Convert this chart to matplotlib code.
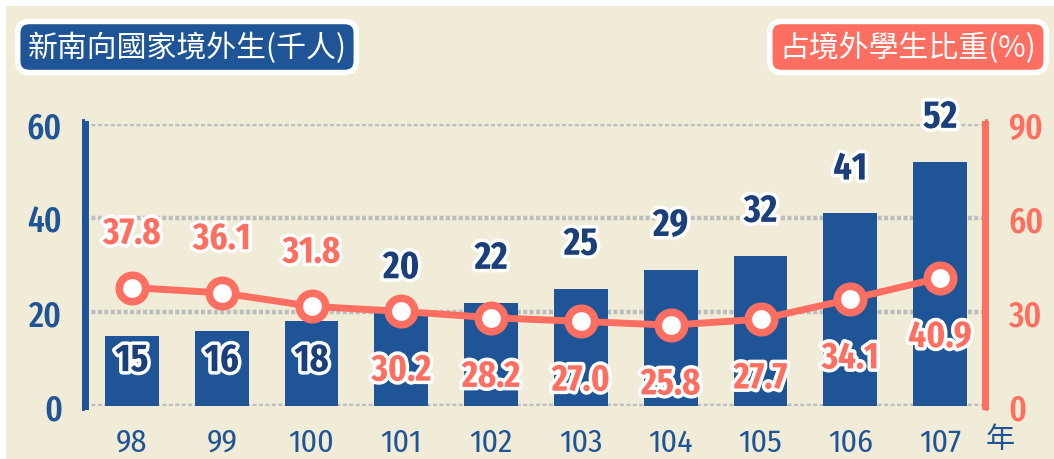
import matplotlib
matplotlib.use("Agg")
import matplotlib.pyplot as plt
import matplotlib.patheffects as pe
from matplotlib.patches import Rectangle
import numpy as np

# 資料
years = ["98", "99", "100", "101", "102", "103", "104", "105", "106", "107"]
students = [15, 16, 18, 20, 22, 25, 29, 32, 41, 52]
share = [37.8, 36.1, 31.8, 30.2, 28.2, 27.0, 25.8, 27.7, 34.1, 40.9]
share_labels = ["37.8", "36.1", "31.8", "30.2", "28.2", "27.0", "25.8", "27.7", "34.1", "40.9"]
left_ticks = [0, 20, 40, 60]
right_ticks = [0, 30, 60, 90]

BLUE = "#1F5597"
DARK_BLUE = "#1B3F7A"
SALMON = "#FF6F61"
BG = "#F1ECD8"
NUM_FONT = ["Fira Sans Extra Condensed", "DejaVu Sans"]
TICK_FONT = ["Fira Sans Condensed", "DejaVu Sans"]
CJK_FONT = ["Noto Sans CJK TC", "DejaVu Sans"]

fig = plt.figure(figsize=(10.54, 4.6), dpi=100, facecolor="white")
fig.patches.append(Rectangle((6 / 1054, 0), 1, (460 - 7) / 460, transform=fig.transFigure,
                             facecolor=BG, edgecolor="none", zorder=-10))

ax = fig.add_axes([85 / 1054, 53 / 460, 900 / 1054, 282 / 460])
ax.set_facecolor("none")
ax2 = ax.twinx()

x = np.arange(len(years))
ax.bar(x, students, width=0.6, color=BLUE, zorder=2)
ax.set_xlim(-0.523, 9.5)
ax.set_ylim(0, 60)
ax2.set_ylim(0, 90)

# 格線
for v in left_ticks:
    ax.axhline(v, color="#BDBDBD", lw=3.2, ls=(0, (0.9, 0.55)), zorder=1)

ax2.plot(x, share, color=SALMON, lw=5, marker="o", markersize=19,
         markerfacecolor="white", markeredgecolor=SALMON, markeredgewidth=5.5, zorder=5)

# 軸線
for s in ["top", "bottom", "right"]:
    ax.spines[s].set_visible(False)
for s in ["top", "bottom", "left"]:
    ax2.spines[s].set_visible(False)
ax.spines["left"].set_color(BLUE)
ax.spines["left"].set_linewidth(5)
ax2.spines["right"].set_color(SALMON)
ax2.spines["right"].set_linewidth(5)

ax.set_yticks(left_ticks)
ax.tick_params(axis="y", colors=BLUE, length=2.5, width=7, pad=14, labelsize=26)
ax2.set_yticks(right_ticks)
ax2.tick_params(axis="y", colors=SALMON, length=2.5, width=7, pad=14, labelsize=26)
for lab in ax.get_yticklabels():
    lab.set_fontfamily(NUM_FONT)
    lab.set_fontweight(500)
    lab.set_color(BLUE)
for lab in ax2.get_yticklabels():
    lab.set_fontfamily(NUM_FONT)
    lab.set_fontweight(500)
    lab.set_color(SALMON)

ax.set_xticks(x)
ax.set_xticklabels(years, fontfamily=TICK_FONT, fontsize=23, color=BLUE)
ax.tick_params(axis="x", length=0, pad=15)

glow = [pe.withStroke(linewidth=5, foreground="white")]

# 人數標籤
for i, v in enumerate(students):
    if i < 3:
        ax.annotate(str(v), (x[i], 9.6), ha="center", va="center", fontsize=28,
                    fontweight="bold", color=DARK_BLUE, fontfamily=NUM_FONT,
                    path_effects=glow, zorder=6)
    else:
        ax.annotate(str(v), (x[i], v), xytext=(0, 44), textcoords="offset pixels",
                    ha="center", va="center", fontsize=28, fontweight="bold",
                    color=DARK_BLUE, fontfamily=NUM_FONT, path_effects=glow, zorder=6)

# 比重標籤
for i, v in enumerate(share):
    dy = 54 if i < 3 else -59
    ax2.annotate(share_labels[i], (x[i], v), xytext=(0, dy), textcoords="offset pixels",
                 ha="center", va="center", fontsize=27, fontweight="bold",
                 color=SALMON, fontfamily=NUM_FONT, path_effects=glow, zorder=7)

# 標題框
fig.text(187 / 1054, 1 - 48 / 460, "新南向國家境外生(千人)", ha="center", va="center",
         fontsize=21.5, color="white", fontfamily=CJK_FONT,
         bbox=dict(boxstyle="round,pad=0.33,rounding_size=0.4", facecolor=BLUE,
                   edgecolor="white", linewidth=4))
fig.text(908 / 1054, 1 - 48 / 460, "占境外學生比重(%)", ha="center", va="center",
         fontsize=21.5, color="white", fontfamily=CJK_FONT,
         bbox=dict(boxstyle="round,pad=0.33,rounding_size=0.4", facecolor=SALMON,
                   edgecolor="white", linewidth=4))
fig.text(1000 / 1054, 1 - 440 / 460, "年", ha="center", va="center",
         fontsize=21, color=BLUE, fontfamily=CJK_FONT)

fig.savefig("out.png", dpi=100, facecolor=fig.get_facecolor())
